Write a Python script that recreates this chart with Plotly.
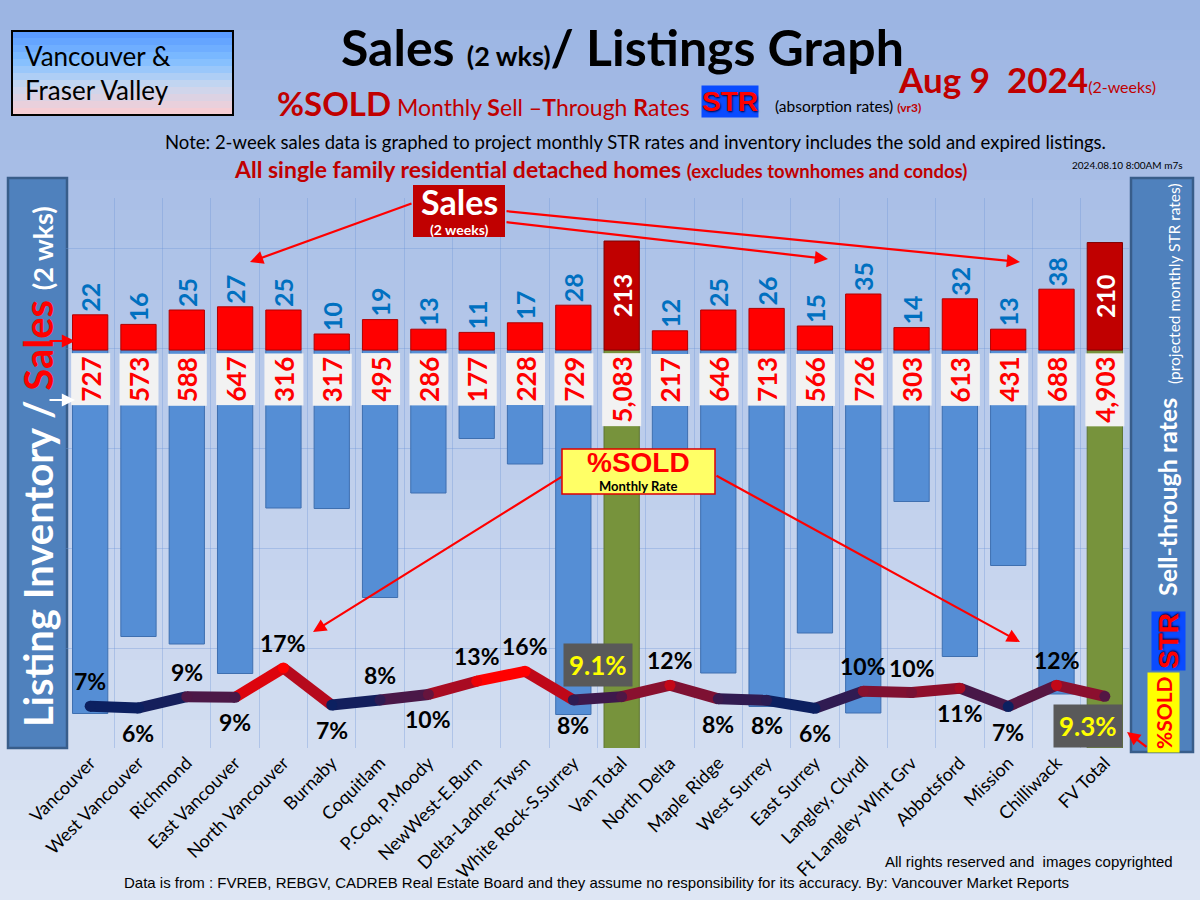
import plotly.graph_objects as go

# ---- data ----
regions = [
    "Vancouver", "West Vancouver", "Richmond", "East Vancouver", "North Vancouver",
    "Burnaby", "Coquitlam", "P.Coq, P.Moody", "NewWest-E.Burn", "Delta-Ladner-Twsn",
    "White Rock-S.Surrey", "Van Total", "North Delta", "Maple Ridge", "West Surrey",
    "East Surrey", "Langley, Clvrdl", "Ft Langley-Wlnt Grv", "Abbotsford", "Mission",
    "Chilliwack", "FV Total",
]
sales_2wk = [22, 16, 25, 27, 25, 10, 19, 13, 11, 17, 28, 213,
             12, 25, 26, 15, 35, 14, 32, 13, 38, 210]
inventory = [727, 573, 588, 647, 316, 317, 495, 286, 177, 228, 729, 5083,
             217, 646, 713, 566, 726, 303, 613, 431, 688, 4903]
str_pct = [6.5, 6.0, 9.1, 8.9, 16.9, 6.8, 8.2, 9.7, 13.3, 16.0, 8.2, 9.1,
           12.2, 8.5, 8.1, 5.9, 10.6, 10.2, 11.4, 6.4, 12.2, 9.2]
str_labels = ["7%", "6%", "9%", "9%", "17%", "7%", "8%", "10%", "13%", "16%", "8%", "9.1%",
              "12%", "8%", "8%", "6%", "10%", "10%", "11%", "7%", "12%", "9.3%"]
total_regions = ["Van Total", "FV Total"]

# label placement for the %SOLD values (style only)
label_side = ["up", "down", "up", "down", "up", "down", "up", "down", "up", "up", "down", "box_up",
              "up", "down", "down", "down", "up", "up", "down", "down", "up", "box_down"]

FONT = "Lato"
L, R, T, B = 66, 1129, 198, 748   # plot area in page pixels


def px(x):
    return (x - L) / (R - L)


def py(y):
    return (B - y) / (B - T)


is_total = [r in total_regions for r in regions]
reg_sales = [None if t else v for v, t in zip(sales_2wk, is_total)]
tot_sales = [v if t else None for v, t in zip(sales_2wk, is_total)]
reg_inv = [None if t else v for v, t in zip(inventory, is_total)]
tot_inv = [v if t else None for v, t in zip(inventory, is_total)]

fig = go.Figure()

# inventory bars hang down from the baseline
fig.add_trace(go.Bar(x=regions, y=reg_inv, yaxis="y", width=0.73,
                     marker=dict(color="#558ed5", line=dict(color="#3e6fb0", width=1)),
                     hoverinfo="x+y", name="Listing Inventory"))
fig.add_trace(go.Bar(x=regions, y=tot_inv, yaxis="y", width=0.73,
                     marker=dict(color="#77933c", line=dict(color="#5e7530", width=1)),
                     hoverinfo="x+y", name="Total Inventory"))

# sales bars go up
fig.add_trace(go.Bar(x=regions, y=reg_sales, yaxis="y2", width=0.73,
                     marker=dict(color="#ff0000", line=dict(color="#b00000", width=1)),
                     texttemplate="%{y}", textposition="outside", textangle=-90,
                     textfont=dict(family=FONT, color="#0070c0", size=25, weight="bold"),
                     constraintext="none", cliponaxis=False, name="Sales"))
fig.add_trace(go.Bar(x=regions, y=tot_sales, yaxis="y3", width=0.73,
                     marker=dict(color="#c00000", line=dict(color="#800000", width=1)),
                     texttemplate="%{y}", textposition="inside", insidetextanchor="middle",
                     textangle=-90,
                     textfont=dict(family=FONT, color="white", size=25, weight="bold"),
                     constraintext="none", name="Total Sales"))


# %SOLD line, coloured from navy (low) to red (high)
def str_color(v):
    t = min(max((v - 7.3) / 6.5, 0.0), 1.0)
    lo, hi = (12, 32, 96), (255, 0, 0)
    c = [round(a + (b - a) * t) for a, b in zip(lo, hi)]
    return f"rgb({c[0]},{c[1]},{c[2]})"


for i in range(len(regions) - 1):
    seg_col = str_color((str_pct[i] + str_pct[i + 1]) / 2)
    fig.add_trace(go.Scatter(x=regions[i:i + 2], y=str_pct[i:i + 2], yaxis="y4",
                             mode="lines", line=dict(color=seg_col, width=11),
                             hoverinfo="skip", showlegend=False))
fig.add_trace(go.Scatter(x=regions, y=str_pct, yaxis="y4", mode="markers",
                         marker=dict(size=11, color=[str_color(v) for v in str_pct]),
                         hovertemplate="%{x}: %{y}%<extra></extra>", showlegend=False))

ann = []

# inventory value boxes just under the baseline
for r, v in zip(regions, inventory):
    ann.append(dict(x=r, y=0, xref="x", yref="y", yanchor="top", yshift=-3,
                    text=f"<b>{v:,}</b>", textangle=-90, showarrow=False,
                    bgcolor="#f2f2f2", borderpad=3,
                    font=dict(family=FONT, size=26, color="#ff0000")))

# %SOLD labels
for r, v, lab, side in zip(regions, str_pct, str_labels, label_side):
    if side.startswith("box"):
        ann.append(dict(x=r, y=v, xref="x", yref="y4", showarrow=False,
                        text=f"<b>{lab}</b>", bgcolor="#595959", borderpad=5,
                        xshift=-24 if side == "box_up" else -17,
                        yshift=32 if side == "box_up" else -30,
                        font=dict(family=FONT, size=26, color="#ffff00")))
    else:
        ann.append(dict(x=r, y=v, xref="x", yref="y4", showarrow=False,
                        text=f"<b>{lab}</b>", yshift=25 if side == "up" else -25,
                        font=dict(family=FONT, size=23, color="black")))
n_data_ann = len(ann)

str_shadow = "1px 1px 2px #00003a"

# header texts
ann += [
    dict(x=px(622), y=py(47), text="<b>Sales <span style='font-size:27px'>(2 wks)</span>/ Listings Graph</b>",
         font=dict(family=FONT, size=50, color="black")),
    dict(x=px(896), y=py(79), xanchor="left",
         text="<b>Aug 9&nbsp;&nbsp;2024</b><span style='font-size:16px'>(2-weeks)</span>",
         font=dict(family=FONT, size=35, color="#c00000")),
    dict(x=px(692), y=py(103), xanchor="right",
         text="<b><span style='font-size:33px'>%SOLD</span></b> Monthly <b>S</b>ell –<b>T</b>hrough <b>R</b>ates",
         font=dict(family=FONT, size=23, color="#c00000")),
    dict(x=px(730), y=py(102), text="<b>STR</b>", bgcolor="#0a4bff", borderpad=0,
         font=dict(family="Liberation Sans", size=28, color="#ff0000", shadow=str_shadow)),
    dict(x=px(773), y=py(106), xanchor="left",
         text="(absorption rates) <b><span style='font-size:12px;color:#c00000'>(vr3)</span></b>",
         font=dict(family=FONT, size=15.5, color="black")),
    dict(x=px(635), y=py(142),
         text="Note: 2-week sales data is graphed to project monthly STR rates and inventory includes the sold and expired listings.",
         font=dict(family=FONT, size=18.5, color="black")),
    dict(x=px(600), y=py(169),
         text="<b>All single family residential detached homes <span style='font-size:18.5px'>(excludes townhomes and condos)</span></b>",
         font=dict(family=FONT, size=23, color="#c00000")),
    dict(x=px(1070), y=py(165), xanchor="left", text="2024.08.10 8:00AM m7s",
         font=dict(family=FONT, size=10, color="black")),
    dict(x=px(23), y=py(73), xanchor="left", align="left",
         text="Vancouver &amp;<br>Fraser Valley",
         font=dict(family=FONT, size=26, color="black")),
    # side panels
    dict(x=px(38), y=py(467), textangle=-90,
         text="<b>Listing Inventory / <span style='color:#ff0000'>Sales</span> <span style='font-size:27px'>(2 wks)</span></b>",
         font=dict(family=FONT, size=40, color="white")),
    dict(x=px(1163), y=py(713), textangle=-90, text="<b>%SOLD</b>", bgcolor="#ffff00",
         borderpad=3, font=dict(family=FONT, size=21, color="#ff0000")),
    dict(x=px(1168), y=py(641), textangle=-90, text="<b>STR</b>", bgcolor="#0a4bff",
         borderpad=1, font=dict(family="Liberation Sans", size=28, color="#ff0000",
                                shadow=str_shadow)),
    dict(x=px(1167), y=py(497), textangle=-90, text="<b>Sell-through rates</b>",
         font=dict(family=FONT, size=25, color="white")),
    dict(x=px(1174), y=py(284), textangle=-90, text="(projected monthly STR rates)",
         font=dict(family=FONT, size=15.5, color="white")),
    # callouts
    dict(x=px(459), y=py(201), text="<b>Sales</b>", font=dict(family=FONT, size=34, color="white")),
    dict(x=px(459), y=py(229), text="<b>(2 weeks)</b>", font=dict(family=FONT, size=14, color="white")),
    dict(x=px(638), y=py(462), text="<b>%SOLD</b>",
         font=dict(family="Liberation Sans", size=28, color="#ff0000")),
    dict(x=px(638), y=py(486), text="<b>Monthly Rate</b>",
         font=dict(family=FONT, size=13, color="black")),
    # footer
    dict(x=px(1175), y=py(861), xanchor="right", text="All rights reserved and&nbsp; images copyrighted",
         font=dict(family="Liberation Sans", size=15, color="black")),
    dict(x=px(596), y=py(882),
         text="Data is from : FVREB, REBGV, CADREB Real Estate Board and they assume no responsibility for its accuracy. By: Vancouver Market Reports",
         font=dict(family="Liberation Sans", size=15, color="black")),
]
for a in ann[n_data_ann:]:
    a.setdefault("xref", "paper")
    a.setdefault("yref", "paper")
    a.setdefault("xanchor", "center")
    a.setdefault("yanchor", "middle")
    a.setdefault("showarrow", False)

# arrows (head, tail) in page pixels
arrows = [
    ((250, 262), (413, 203)), ((1020, 262), (505, 211)), ((828, 259), (505, 222)),
    ((313, 632), (563, 476)), ((1020, 642), (715, 475)),
    ((75, 341), (48, 341)), ((1127, 732), (1148, 748)),
]
for (hx, hy), (tx, ty) in arrows:
    ann.append(dict(x=px(hx), y=py(hy), xref="paper", yref="paper", ax=tx - hx, ay=ty - hy,
                    text="", showarrow=True, arrowhead=2, arrowsize=1.2, arrowwidth=2.2,
                    arrowcolor="#ff0000"))
ann.append(dict(x=px(75), y=py(400), xref="paper", yref="paper", ax=-27, ay=0, text="",
                showarrow=True, arrowhead=2, arrowsize=1.2, arrowwidth=2.2, arrowcolor="white"))

# background gradient bands + boxes
shapes = []
top_c, bot_c = (156, 181, 227), (222, 230, 244)
n = 30
for k in range(n):
    t = k / (n - 1)
    c = [round(a + (b - a) * t) for a, b in zip(top_c, bot_c)]
    shapes.append(dict(type="rect", xref="paper", yref="paper", layer="below",
                       x0=px(0), x1=px(1200), y0=py(900 * (k + 1) / n + 1), y1=py(900 * k / n),
                       line_width=0, fillcolor=f"rgb({c[0]},{c[1]},{c[2]})"))

# Vancouver & Fraser Valley box with gradient
vb = [(91, 155, 255), (128, 190, 255), (200, 215, 240), (245, 205, 212)]
for k in range(12):
    t = k / 11 * 3
    i0 = min(int(t), 2)
    f = t - i0
    c = [round(a + (b - a) * f) for a, b in zip(vb[i0], vb[i0 + 1])]
    shapes.append(dict(type="rect", xref="paper", yref="paper", layer="below",
                       x0=px(12), x1=px(233), y0=py(31 + 84 * (k + 1) / 12 + 0.5),
                       y1=py(31 + 84 * k / 12), line_width=0,
                       fillcolor=f"rgb({c[0]},{c[1]},{c[2]})"))
shapes.append(dict(type="rect", xref="paper", yref="paper", layer="below",
                   x0=px(12), x1=px(233), y0=py(115), y1=py(31),
                   line=dict(color="black", width=2)))
# side panels
for x0, x1, y0, y1 in [(8, 67, 178, 748), (1131, 1193, 178, 752)]:
    shapes.append(dict(type="rect", xref="paper", yref="paper", layer="below",
                       x0=px(x0), x1=px(x1), y0=py(y1), y1=py(y0),
                       fillcolor="#4f81bd", line=dict(color="#385d8a", width=2.5)))
# callout boxes
shapes.append(dict(type="rect", xref="paper", yref="paper", layer="above",
                   x0=px(413), x1=px(505), y0=py(237), y1=py(185),
                   fillcolor="#c00000", line_width=0))
shapes.append(dict(type="rect", xref="paper", yref="paper", layer="above",
                   x0=px(562), x1=px(715), y0=py(494), y1=py(449),
                   fillcolor="#ffff66", line=dict(color="#e00000", width=1.5)))

grid_col = "rgba(110,150,215,0.35)"
fig.update_layout(
    width=1200, height=900,
    margin=dict(l=L, r=1200 - R, t=T, b=900 - B),
    paper_bgcolor="#c0cfec", plot_bgcolor="rgba(0,0,0,0)",
    barmode="overlay", showlegend=False,
    font=dict(family=FONT, color="black"),
    xaxis=dict(type="category", range=[-0.5, len(regions) - 0.5], tickangle=-45,
               tickfont=dict(family=FONT, size=18, color="black"),
               showgrid=True, gridcolor=grid_col, tickson="boundaries", ticks="",
               zeroline=False, showline=False),
    yaxis=dict(range=[796, -304], tick0=-4, dtick=200, showgrid=True, gridcolor=grid_col,
               showticklabels=False, zeroline=False, fixedrange=True),
    yaxis2=dict(overlaying="y", range=[-248.75, 95], visible=False),
    yaxis3=dict(overlaying="y", range=[-777, 297], visible=False),
    yaxis4=dict(overlaying="y", range=[-4.9, 145], visible=False),
    annotations=ann, shapes=shapes,
)

fig.write_html("out.html", config={"displayModeBar": False},
               post_script="document.body.style.margin='0';")
